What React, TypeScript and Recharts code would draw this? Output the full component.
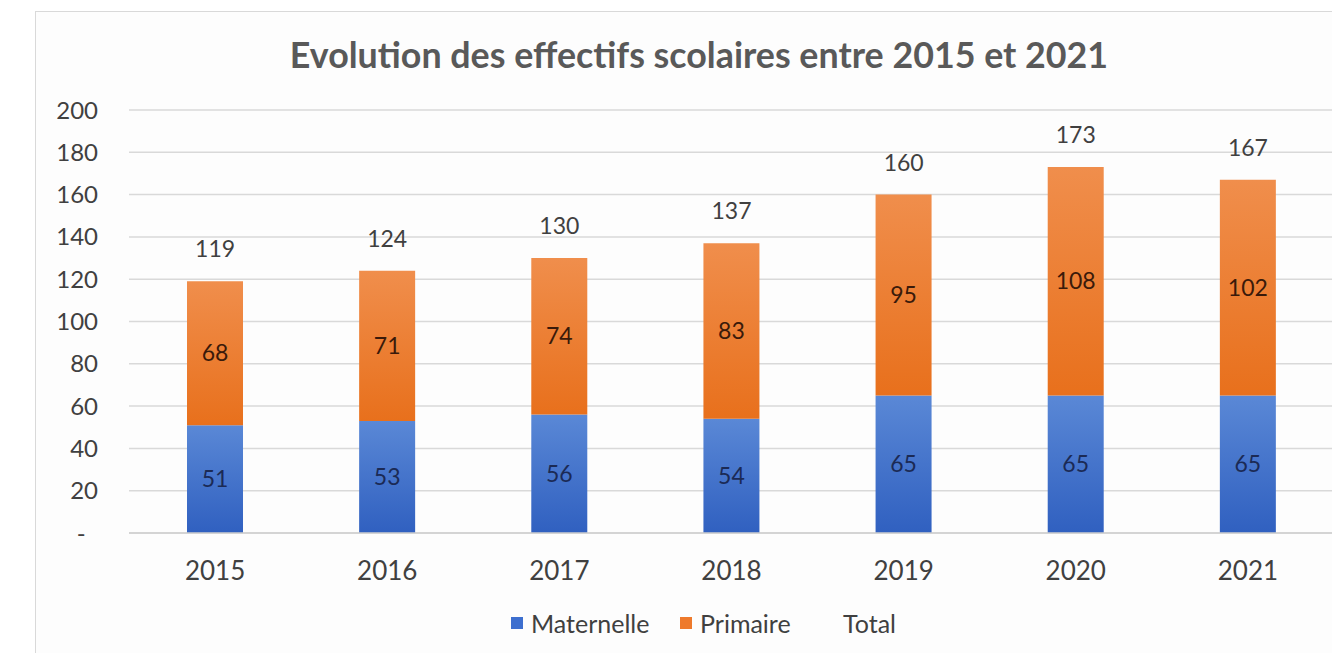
import React from "react";
import {
  ComposedChart,
  Bar,
  Line,
  XAxis,
  YAxis,
  CartesianGrid,
  LabelList,
} from "recharts";

const annees = ["2015", "2016", "2017", "2018", "2019", "2020", "2021"];
const maternelle = [51, 53, 56, 54, 65, 65, 65];
const primaire = [68, 71, 74, 83, 95, 108, 102];
const total = [119, 124, 130, 137, 160, 173, 167];
const yTicks = [0, 20, 40, 60, 80, 100, 120, 140, 160, 180, 200];

const data = annees.map((annee, i) => ({
  annee,
  maternelle: maternelle[i],
  primaire: primaire[i],
  total: total[i],
}));

const FONT = "Lato, 'Open Sans', sans-serif";

// légende faite à la main : "Total" n'a pas de pastille
const legendeItems = [
  { label: "Maternelle", color: "#3d6fcf", x: 511 },
  { label: "Primaire", color: "#ee7a2c", x: 680 },
  { label: "Total", color: null, x: 823 },
];

function Legende() {
  return (
    <>
      {legendeItems.map((it) => (
        <div
          key={it.label}
          style={{
            position: "absolute",
            top: 608,
            left: it.x,
            height: 30,
            display: "flex",
            alignItems: "center",
            fontFamily: FONT,
            fontSize: 25,
            color: "#404040",
            whiteSpace: "nowrap",
          }}
        >
          <span
            style={{
              width: 12,
              height: 12,
              background: it.color ?? "transparent",
              display: "inline-block",
              marginRight: 8,
            }}
          />
          <span style={{ lineHeight: "30px" }}>{it.label}</span>
        </div>
      ))}
    </>
  );
}

export default function App() {
  return (
    <div
      style={{
        position: "absolute",
        left: 0,
        top: 0,
        width: 1332,
        height: 653,
        overflow: "hidden",
        background: "#ffffff",
      }}
    >
      {/* cadre du graphique, coupé à droite et en bas comme sur l'image */}
      <div
        style={{
          position: "absolute",
          left: 35,
          top: 11,
          width: 1400,
          height: 700,
          border: "1px solid #d9d9d9",
          background: "#fdfdfd",
        }}
      />
      <div
        style={{
          position: "absolute",
          left: 35,
          top: 33,
          width: 1328,
          textAlign: "center",
          fontFamily: FONT,
          fontWeight: 700,
          fontSize: 35.8,
          color: "#595959",
        }}
      >
        Evolution des effectifs scolaires entre 2015 et 2021
      </div>
      <div style={{ position: "absolute", left: 0, top: 0 }}>
        <ComposedChart
          width={1340}
          height={653}
          data={data}
          margin={{ top: 110, right: 6, left: 29, bottom: 80 }}
        >
          <defs>
            <linearGradient id="gradBleu" x1="0" y1="0" x2="0" y2="1">
              <stop offset="0%" stopColor="#5a88d6" />
              <stop offset="100%" stopColor="#3060c0" />
            </linearGradient>
            <linearGradient id="gradOrange" x1="0" y1="0" x2="0" y2="1">
              <stop offset="0%" stopColor="#f08e4c" />
              <stop offset="100%" stopColor="#e8701c" />
            </linearGradient>
          </defs>
          <CartesianGrid vertical={false} stroke="#d9d9d9" strokeWidth={1.5} />
          <XAxis
            dataKey="annee"
            height={40}
            tickSize={0}
            tickMargin={29}
            axisLine={{ stroke: "#cfcfcf", strokeWidth: 1.5 }}
            tick={{ fill: "#404040", fontSize: 26, fontFamily: FONT }}
          />
          <YAxis
            width={100}
            domain={[0, 200]}
            ticks={yTicks}
            tickSize={0}
            tickMargin={31}
            axisLine={false}
            tickLine={false}
            interval={0}
            tickFormatter={(v: number) => (v === 0 ? "-\u00a0\u00a0" : String(v))}
            tick={{ fill: "#404040", fontSize: 24, fontFamily: FONT }}
          />
          <Bar
            dataKey="maternelle"
            stackId="a"
            fill="url(#gradBleu)"
            barSize={56}
            isAnimationActive={false}
          >
            <LabelList
              dataKey="maternelle"
              position="center"
              style={{ fill: "#1b2a55", fontSize: 23, fontFamily: FONT }}
            />
          </Bar>
          <Bar
            dataKey="primaire"
            stackId="a"
            fill="url(#gradOrange)"
            barSize={56}
            isAnimationActive={false}
          >
            <LabelList
              dataKey="primaire"
              position="center"
              style={{ fill: "#3a1a0a", fontSize: 23, fontFamily: FONT }}
            />
          </Bar>
          <Line
            dataKey="total"
            stroke="none"
            dot={false}
            activeDot={false}
            isAnimationActive={false}
          >
            <LabelList
              dataKey="total"
              position="top"
              offset={24}
              style={{ fill: "#404040", fontSize: 23, fontFamily: FONT }}
            />
          </Line>
        </ComposedChart>
      </div>
      <Legende />
    </div>
  );
}
